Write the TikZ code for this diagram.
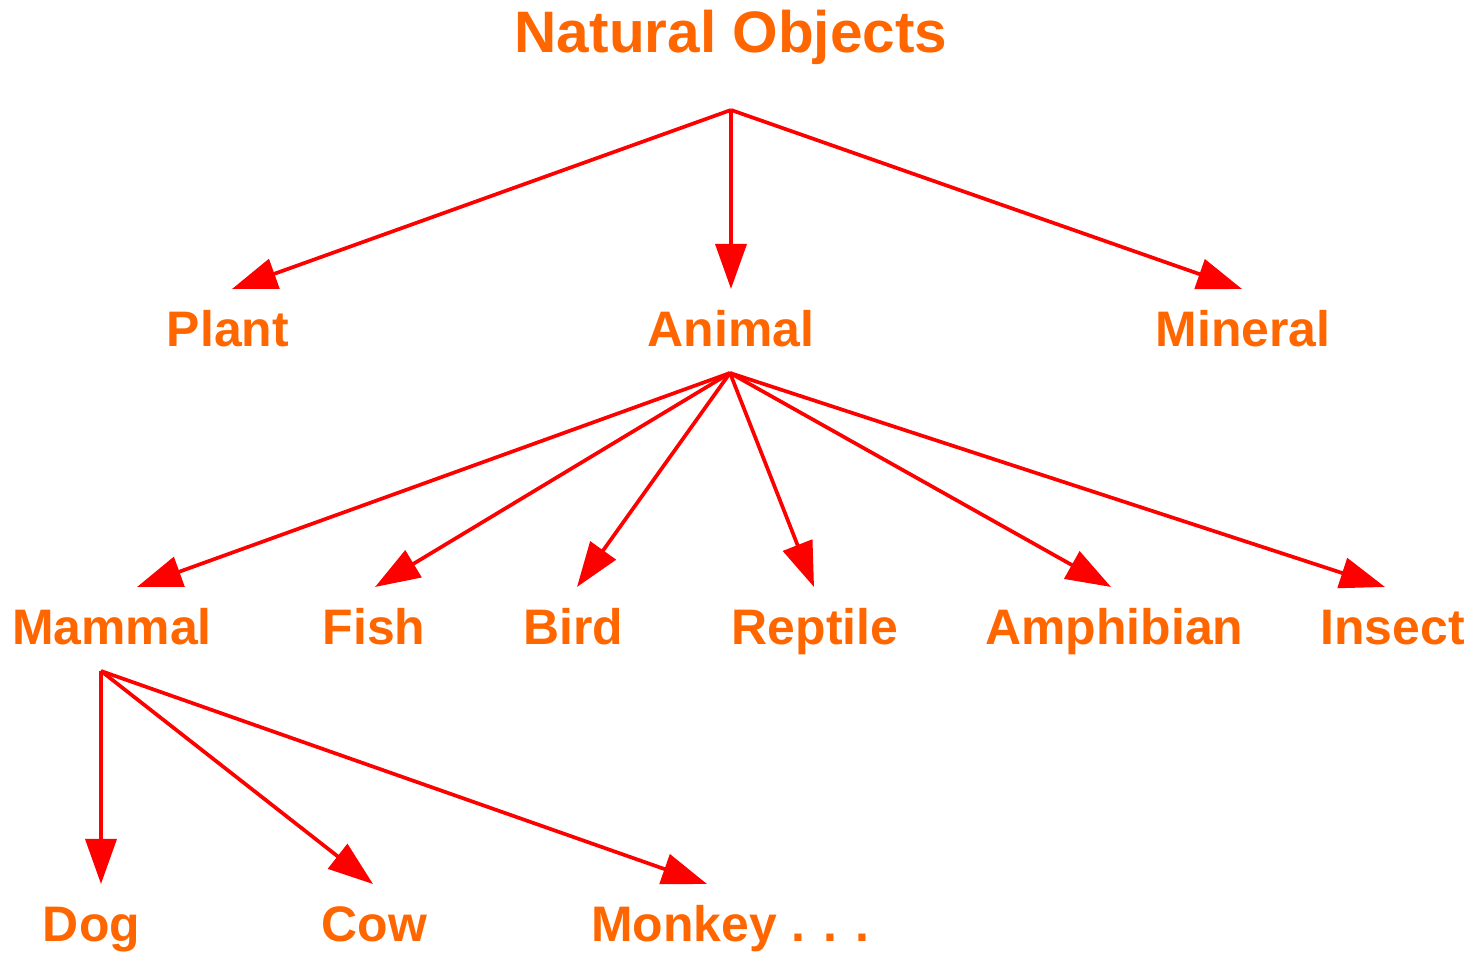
\documentclass[tikz,border=0pt]{standalone}
\usepackage{fontspec}
\setmainfont{Liberation Sans}
\usetikzlibrary{arrows.meta}
\definecolor{labelorange}{HTML}{FF6600}
\definecolor{linkred}{HTML}{FF0000}
\begin{document}
\begin{tikzpicture}[
    cls/.style={anchor=base, inner sep=0pt, text=labelorange, font=\fontsize{28.4pt}{32pt}\selectfont\bfseries},
    top/.style={cls, font=\fontsize{33.3pt}{38pt}\selectfont\bfseries},
    link/.style={draw=linkred, line width=2.1pt, -{Triangle[length=0.9cm, width=0.62cm]}, fill=linkred},
]
\useasboundingbox (0, 0) rectangle (29.56, 19.06);

% Root
\node[top] (natural) at (14.62, 18.0) {Natural Objects};

% Kingdoms
\node[cls] (plant) at (4.56, 12.12) {Plant};
\node[cls] (animal) at (14.62, 12.12) {Animal};
\node[cls] (mineral) at (24.86, 12.12) {Mineral};

% Classes of animals
\node[cls] (mammal) at (2.24, 6.16) {Mammal};
\node[cls] (fish) at (7.48, 6.16) {Fish};
\node[cls] (bird) at (11.47, 6.16) {Bird};
\node[cls] (reptile) at (16.30, 6.16) {Reptile};
\node[cls] (amphibian) at (22.29, 6.16) {Amphibian};
\node[cls] (insect) at (27.85, 6.16) {Insect};

% Mammals
\node[cls] (dog) at (1.83, 0.22) {Dog};
\node[cls] (cow) at (7.49, 0.22) {Cow};
\node[cls] (monkey) at (14.61, 0.22) {Monkey . . .};

% Branch points below the parents
\coordinate (natural-fork) at ([yshift=-1.14cm]natural.base);
\coordinate (animal-fork) at ([xshift=-0.02cm, yshift=-0.52cm]animal.base);
\coordinate (mammal-fork) at ([xshift=-0.22cm, yshift=-0.52cm]mammal.base);

% Arrows
\draw[link] (natural-fork) -- ([xshift=0.08cm, yshift=1.16cm]plant.base);
\draw[link] (natural-fork) -- ([yshift=1.16cm]animal.base);
\draw[link] (natural-fork) -- ([xshift=-0.02cm, yshift=1.16cm]mineral.base);

\draw[link] (animal-fork) -- ([xshift=0.5cm, yshift=1.16cm]mammal.base);
\draw[link] (animal-fork) -- ([xshift=0.02cm, yshift=1.16cm]fish.base);
\draw[link] (animal-fork) -- ([xshift=0.07cm, yshift=1.16cm]bird.base);
\draw[link] (animal-fork) -- ([xshift=-0.02cm, yshift=1.16cm]reptile.base);
\draw[link] (animal-fork) -- ([xshift=-0.07cm, yshift=1.16cm]amphibian.base);
\draw[link] (animal-fork) -- ([xshift=-0.15cm, yshift=1.16cm]insect.base);

\draw[link] (mammal-fork) -- ([xshift=0.19cm, yshift=1.16cm]dog.base);
\draw[link] (mammal-fork) -- ([xshift=-0.03cm, yshift=1.16cm]cow.base);
\draw[link] (mammal-fork) -- ([xshift=-0.47cm, yshift=1.16cm]monkey.base);
\end{tikzpicture}
\end{document}
